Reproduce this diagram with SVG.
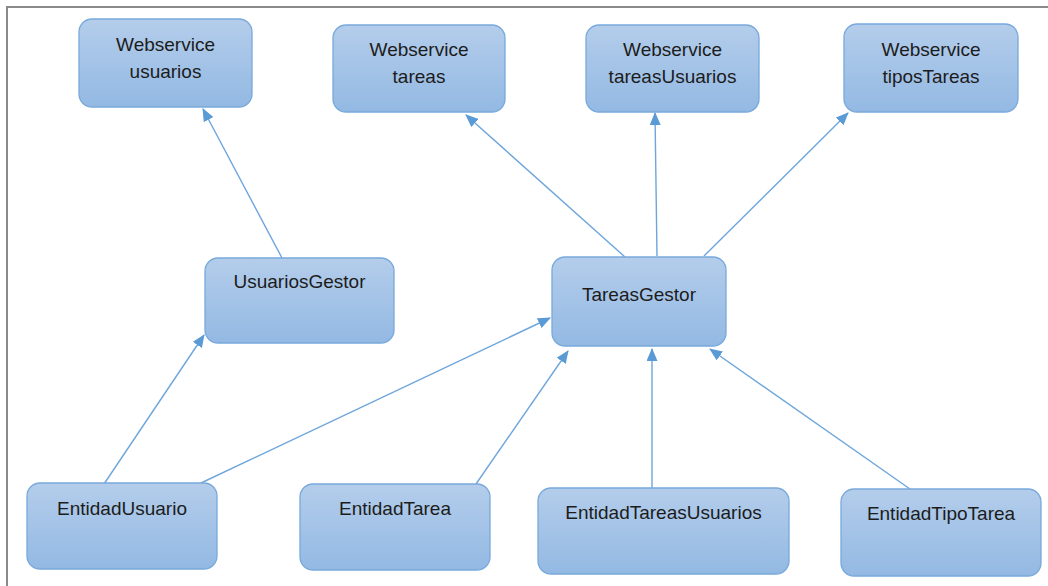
<svg xmlns="http://www.w3.org/2000/svg" width="1048" height="586" viewBox="0 0 1048 586">
  <defs>
    <linearGradient id="boxFill" x1="0" y1="0" x2="0" y2="1">
      <stop offset="0" stop-color="#b4cdeb"/>
      <stop offset="1" stop-color="#93b9e3"/>
    </linearGradient>
    <marker id="arrow" viewBox="0 0 13 11" refX="12" refY="5.5" markerWidth="13" markerHeight="11" markerUnits="userSpaceOnUse" orient="auto">
      <path d="M0,0 L13,5.5 L0,11 Z" fill="#5b9bd5"/>
    </marker>
    <style>
      .box { fill: url(#boxFill); stroke: #78a9dc; stroke-width: 1.3; }
      .label { font-family: "Liberation Sans", Arial, sans-serif; font-size: 19px; fill: #1c1c1c; text-anchor: middle; }
      .link { stroke: #6ea6dc; stroke-width: 1.4; fill: none; marker-end: url(#arrow); }
    </style>
  </defs>

  <rect width="1048" height="586" fill="#ffffff"/>
  <!-- outer frame (open on the right and bottom edges) -->
  <path d="M7,586 L7,7 L1048,7" fill="none" stroke="#8a8a8a" stroke-width="2"/>

  <!-- connectors -->
  <g id="connectors">
    <line class="link" x1="282" y1="258" x2="203" y2="109"/>
    <line class="link" x1="625" y1="257" x2="466" y2="115"/>
    <line class="link" x1="657" y1="256" x2="655" y2="113"/>
    <line class="link" x1="704" y1="256" x2="848" y2="113"/>
    <line class="link" x1="104" y1="484" x2="204" y2="335"/>
    <line class="link" x1="201" y1="483" x2="550" y2="318"/>
    <line class="link" x1="476" y1="484" x2="568" y2="351"/>
    <line class="link" x1="652" y1="488" x2="652" y2="349"/>
    <line class="link" x1="910" y1="489" x2="710" y2="349"/>
  </g>

  <g id="ws-usuarios">
    <rect class="box" x="79" y="19" width="173" height="88" rx="13"/>
    <text class="label" x="165.5" y="51">Webservice</text>
    <text class="label" x="165.5" y="78">usuarios</text>
  </g>
  <g id="ws-tareas">
    <rect class="box" x="333" y="25" width="172" height="87" rx="13"/>
    <text class="label" x="419" y="56">Webservice</text>
    <text class="label" x="419" y="83">tareas</text>
  </g>
  <g id="ws-tareasUsuarios">
    <rect class="box" x="586" y="25" width="173" height="87" rx="13"/>
    <text class="label" x="672.5" y="56">Webservice</text>
    <text class="label" x="672.5" y="83">tareasUsuarios</text>
  </g>
  <g id="ws-tiposTareas">
    <rect class="box" x="844" y="24" width="174" height="88" rx="13"/>
    <text class="label" x="931" y="56">Webservice</text>
    <text class="label" x="931" y="83">tiposTareas</text>
  </g>

  <g id="usuariosGestor">
    <rect class="box" x="205" y="258" width="189" height="85" rx="13"/>
    <text class="label" x="299.5" y="288">UsuariosGestor</text>
  </g>
  <g id="tareasGestor">
    <rect class="box" x="552" y="257" width="174" height="89" rx="13"/>
    <text class="label" x="639" y="301">TareasGestor</text>
  </g>

  <g id="entidadUsuario">
    <rect class="box" x="27" y="483" width="190" height="86" rx="13"/>
    <text class="label" x="122" y="515">EntidadUsuario</text>
  </g>
  <g id="entidadTarea">
    <rect class="box" x="300" y="484" width="190" height="86" rx="13"/>
    <text class="label" x="395" y="515">EntidadTarea</text>
  </g>
  <g id="entidadTareasUsuarios">
    <rect class="box" x="538" y="488" width="251" height="86" rx="13"/>
    <text class="label" x="663.5" y="519">EntidadTareasUsuarios</text>
  </g>
  <g id="entidadTipoTarea">
    <rect class="box" x="841" y="489" width="200" height="87" rx="13"/>
    <text class="label" x="941" y="520">EntidadTipoTarea</text>
  </g>
</svg>
